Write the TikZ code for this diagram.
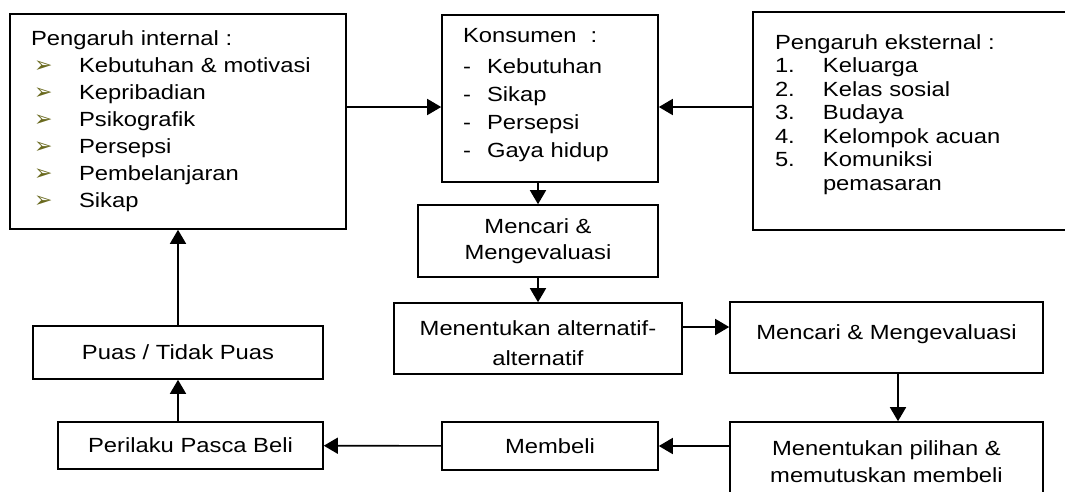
\documentclass[tikz,border=0pt]{standalone}
\usepackage{fontspec}
\setmainfont[FakeStretch=1.16]{Liberation Sans}
\newfontfamily\symfont{DejaVu Sans}
\usetikzlibrary{arrows.meta}
\definecolor{bulletcol}{RGB}{105,105,30}
\newcommand{\bul}{\makebox[48pt][l]{\hspace{3pt}{\symfont\fontsize{22}{22}\selectfont\color{bulletcol}➢}}}
\newcommand{\itemnum}[1]{\makebox[48pt][l]{#1}}
\newcommand{\dashitem}{\makebox[24pt][l]{-}}
\begin{document}
\begin{tikzpicture}
  [x=1pt,y=-1pt,line width=1.6pt,>={Triangle[length=14pt,width=16pt]},
   box/.style={draw,line width=1.6pt,inner sep=0pt,align=center,font=\fontsize{20.5}{#1}\selectfont},
   box/.default=26,
   listbox/.style={box=#1,inner xsep=21pt,align=left}]
  \useasboundingbox (0,0) rectangle (1065,491);
  \node[listbox=27,text width=294pt,minimum height=215pt] (n1) at (178,121.5)
    {Pengaruh internal :\\ \bul Kebutuhan \& motivasi\\ \bul Kepribadian\\ \bul Psikografik\\
     \bul Persepsi\\ \bul Pembelanjaran\\ \bul Sikap};
  \node[listbox=28,text width=174pt,minimum height=167pt] (n2) at (550,98.5)
    {Konsumen\hspace{14pt}:\\[3pt] \dashitem Kebutuhan\\ \dashitem Sikap\\ \dashitem Persepsi\\ \dashitem Gaya hidup\\[-16pt] \mbox{}};
  \node[listbox=23.5,inner xsep=22pt,text width=278pt,minimum height=218pt] (n10) at (914,121)
    {Pengaruh eksternal :\\ \itemnum{1.}Keluarga\\ \itemnum{2.}Kelas sosial\\ \itemnum{3.}Budaya\\
     \itemnum{4.}Kelompok acuan\\ \itemnum{5.}Komuniksi\\ \hspace*{48pt}pemasaran\\[-6pt] \mbox{}};
  \node[box,minimum width=240pt,minimum height=72pt] (n3) at (538,241) {Mencari \&\\ Mengevaluasi};
  \node[box=30,minimum width=288pt,minimum height=71pt] (n4) at (538,338.5) {\mbox{}\\[-5pt] Menentukan alternatif-\\ alternatif};
  \node[box,minimum width=313pt,minimum height=71pt] (n5) at (886.5,337.5) {\raisebox{10.5pt}{Mencari \& Mengevaluasi}};
  \node[box=27,minimum width=313pt,minimum height=79pt] (n6) at (886.5,461.5) {Menentukan pilihan \&\\ memutuskan membeli};
  \node[box,minimum width=216pt,minimum height=48pt] (n7) at (550,446) {Membeli};
  \node[box,minimum width=265pt,minimum height=47pt] (n8) at (190.5,445.5) {Perilaku Pasca Beli};
  \node[box,minimum width=290pt,minimum height=53pt] (n9) at (178,352.5) {Puas / Tidak Puas};
  \coordinate (m) at (400,107);

  \draw[->] (n1.east |- m) -- (n2.west |- m);
  \draw[->] (n10.west |- m) -- (n2.east |- m);
  \draw[->] (n2.south -| n3) -- (n3.north);
  \draw[->] (n3.south -| n4) -- (n4.north);
  \draw[->] ([yshift=11.5pt]n4.east) -- ([yshift=11.5pt]n4.east -| n5.west);
  \draw[->] ([xshift=11.5pt]n5.south) -- ([xshift=11.5pt]n5.south |- n6.north);
  \draw[->] (n6.west |- n7) -- (n7.east);
  \draw[->] (n8.north -| n9) -- (n9.south);
  \foreach \from/\to in {n7/n8,n9/n1}
    \draw[->] (\from) -- (\to);
\end{tikzpicture}
\end{document}
